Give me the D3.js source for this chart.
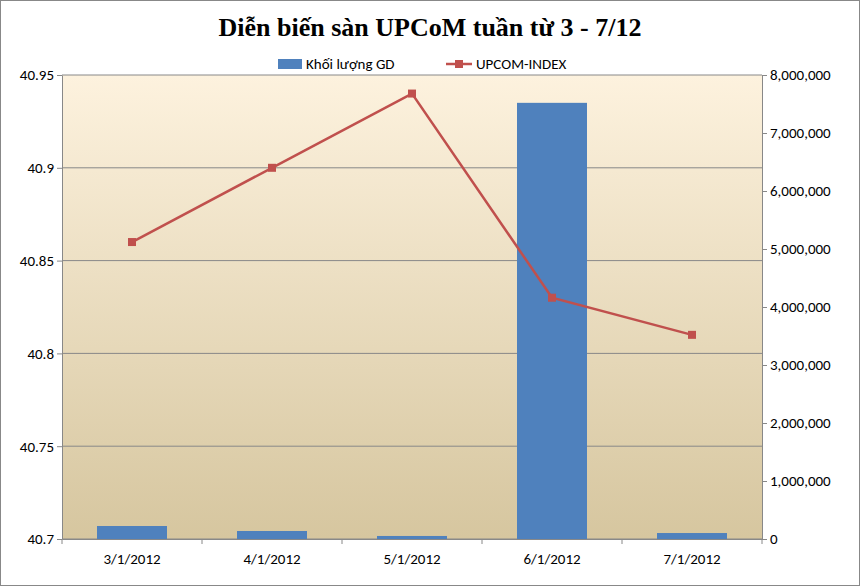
<!DOCTYPE html>
<html><head><meta charset="utf-8">
<script src="https://cdn.jsdelivr.net/npm/d3@7"></script>
<style>body{margin:0;background:#fff}svg{display:block}</style>
</head><body>
<svg id="c" width="860" height="586"></svg>
<script>
const categories=["3/1/2012","4/1/2012","5/1/2012","6/1/2012","7/1/2012"];
const volume=[224000,138000,52000,7520000,103000];
const indexVals=[40.86,40.90,40.94,40.83,40.81];
const leftTicks=[40.7,40.75,40.8,40.85,40.9,40.95];
const rightTicks=[0,1000000,2000000,3000000,4000000,5000000,6000000,7000000,8000000];

const svg=d3.select("#c");
const L=62,R=762,T=75,B=539;
const defs=svg.append("defs");
const g=defs.append("linearGradient").attr("id","bg").attr("x1",0).attr("y1",0).attr("x2",0).attr("y2",1);
g.append("stop").attr("offset","0%").attr("stop-color","#fdf2de");
g.append("stop").attr("offset","100%").attr("stop-color","#d6c69f");
svg.append("rect").attr("x",0.5).attr("y",0.5).attr("width",859).attr("height",585).attr("fill","#fff").attr("stroke","#888");
svg.append("rect").attr("x",L).attr("y",T).attr("width",R-L).attr("height",B-T).attr("fill","url(#bg)");

const x=d3.scaleBand().domain(categories).range([L,R]);
const yl=d3.scaleLinear().domain([40.7,40.95]).range([B,T]);
const yr=d3.scaleLinear().domain([0,8000000]).range([B,T]);

svg.append("g").selectAll("line").data(leftTicks).join("line")
 .attr("x1",L).attr("x2",R).attr("y1",d=>yl(d)).attr("y2",d=>yl(d)).attr("stroke","#888").attr("stroke-width",1);

const bw=x.bandwidth()*0.5;
svg.append("g").selectAll("rect").data(volume).join("rect")
 .attr("x",(d,i)=>x(categories[i])+(x.bandwidth()-bw)/2).attr("width",bw)
 .attr("y",d=>yr(d)).attr("height",d=>B-yr(d)).attr("fill","#4f81bd");

const line=d3.line().x((d,i)=>x(categories[i])+x.bandwidth()/2).y(d=>yl(d));
svg.append("path").datum(indexVals).attr("d",line).attr("fill","none").attr("stroke","#c0504d").attr("stroke-width",2.5);
svg.append("g").selectAll("rect").data(indexVals).join("rect")
 .attr("x",(d,i)=>x(categories[i])+x.bandwidth()/2-4).attr("y",d=>yl(d)-4).attr("width",8).attr("height",8).attr("fill","#c0504d");

const font="Calibri, Carlito, 'Liberation Sans', sans-serif";
const ax=svg.append("g").attr("transform",`translate(${L},0)`).call(d3.axisLeft(yl).tickValues(leftTicks).tickFormat(d=>d3.format("")(+d.toFixed(2))).tickSize(5).tickSizeOuter(0));
const ar=svg.append("g").attr("transform",`translate(${R},0)`).call(d3.axisRight(yr).tickValues(rightTicks).tickFormat(d3.format(",")).tickSize(5).tickSizeOuter(0));
const ab=svg.append("g").attr("transform",`translate(0,${B})`).call(d3.axisBottom(x).tickSize(5).tickSizeOuter(0));
ab.selectAll(".tick").append("line").attr("x1",x.bandwidth()/2).attr("x2",x.bandwidth()/2).attr("y2",5).attr("stroke","#888");
ab.selectAll(".tick").filter((d,i)=>i===0).append("line").attr("x1",-x.bandwidth()/2).attr("x2",-x.bandwidth()/2).attr("y2",5).attr("stroke","#888");
ab.selectAll(".tick > line:first-child").remove();
[ax,ar,ab].forEach(a=>{a.selectAll("path,line").attr("stroke","#888");a.selectAll("text").attr("font-family",font).attr("font-size",15).attr("fill","#000");});
ab.selectAll("text").attr("dy","1.1em");

svg.append("text").attr("x",430).attr("y",36).attr("text-anchor","middle").attr("font-family","'Times New Roman','Liberation Serif',serif").attr("font-weight","bold").attr("font-size",26).text("Diễn biến sàn UPCoM tuần từ 3 - 7/12");

const lg=svg.append("g").attr("font-family",font).attr("font-size",15);
lg.append("rect").attr("x",278).attr("y",59).attr("width",24).attr("height",10).attr("fill","#4f81bd");
lg.append("text").attr("x",306).attr("y",69).text("Khối lượng GD");
lg.append("line").attr("x1",446).attr("x2",472).attr("y1",64).attr("y2",64).attr("stroke","#c0504d").attr("stroke-width",2.5);
lg.append("rect").attr("x",455).attr("y",60).attr("width",8).attr("height",8).attr("fill","#c0504d");
lg.append("text").attr("x",476).attr("y",69).text("UPCOM-INDEX");
</script>
</body></html>
